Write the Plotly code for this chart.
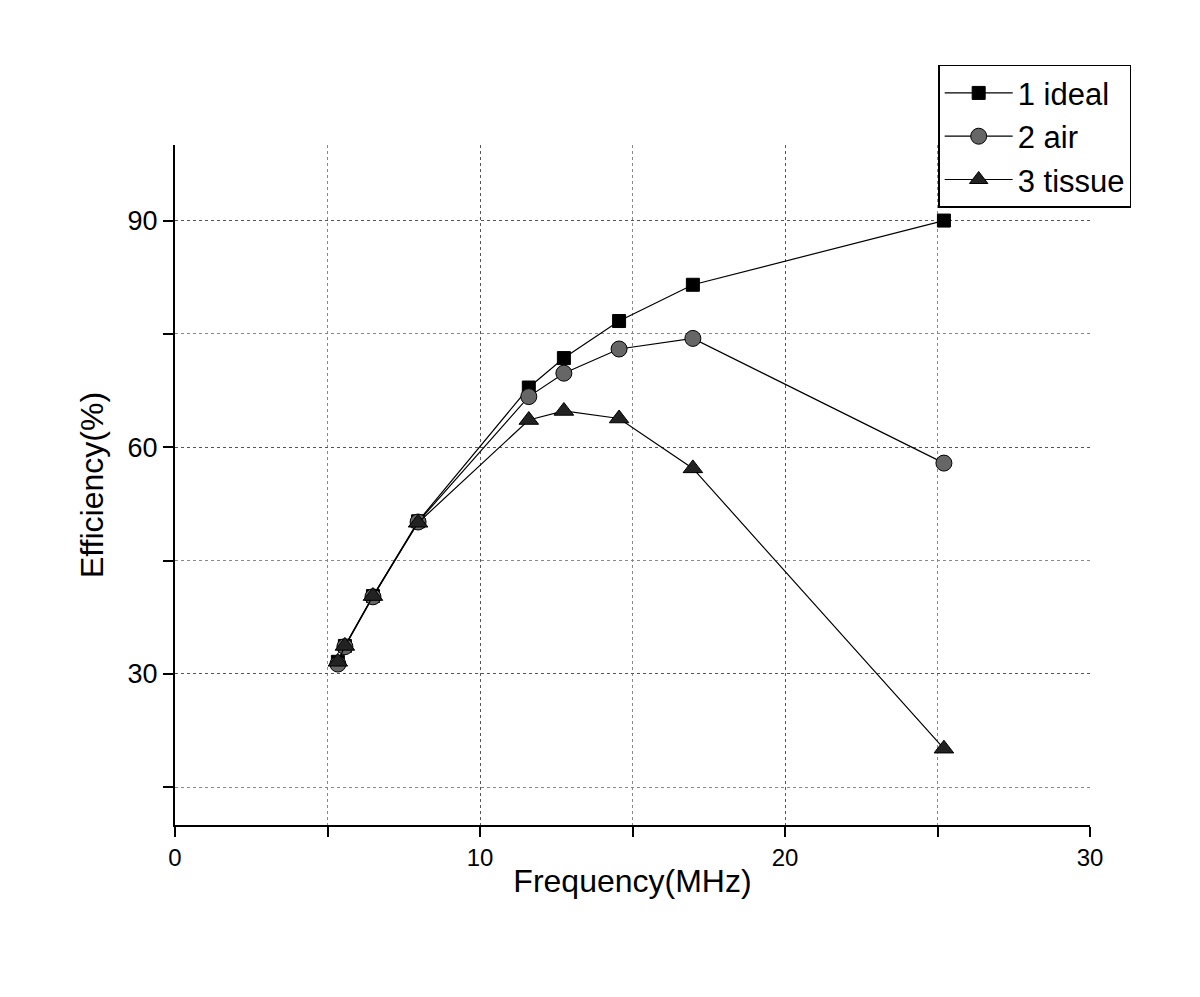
import plotly.graph_objects as go

freq = [5.34, 5.57, 6.49, 7.97, 11.6, 12.75, 14.56, 16.98, 25.21]
ideal = [31.6, 33.7, 40.3, 50.2, 67.9, 71.8, 76.7, 81.5, 90.0]
air = [31.3, 33.6, 40.2, 50.1, 66.7, 69.8, 73.0, 74.4, 57.9]
tissue = [31.6, 33.7, 40.3, 50.0, 63.6, 64.8, 63.8, 57.2, 20.1]

fig = go.Figure()
fig.add_trace(go.Scatter(x=freq, y=ideal, name="1 ideal", mode="lines+markers",
                         line=dict(color="black", width=1.2),
                         marker=dict(symbol="square", size=13, color="black",
                                     line=dict(color="black", width=1))))
fig.add_trace(go.Scatter(x=freq, y=air, name="2 air", mode="lines+markers",
                         line=dict(color="black", width=1.2),
                         marker=dict(symbol="circle", size=16, color="#666666",
                                     line=dict(color="black", width=1))))
fig.add_trace(go.Scatter(x=freq, y=tissue, name="3 tissue", mode="lines+markers",
                         line=dict(color="black", width=1.2),
                         marker=dict(symbol="triangle-up", size=17, color="#222222",
                                     line=dict(color="black", width=1))))

font = "Liberation Sans, Arial, sans-serif"
fig.update_layout(
    width=1200, height=997,
    paper_bgcolor="white", plot_bgcolor="white",
    margin=dict(l=167, r=118, t=137, b=180),
    font=dict(family=font, color="black"),
    legend=dict(x=1.045, y=1.118, xanchor="right", yanchor="top",
                bordercolor="black", borderwidth=1.5, bgcolor="white",
                font=dict(size=31, family=font), itemwidth=68, tracegroupgap=0),
    xaxis=dict(range=[0, 30], tickvals=[0, 10, 20, 30], ticks="outside", ticklen=10,
               tickwidth=2, tickcolor="black", showline=True, linecolor="black",
               linewidth=2, showgrid=True, gridcolor="#555555", griddash="dot",
               gridwidth=1, zeroline=False,
               tickfont=dict(size=24, family=font),
               title=dict(text="Frequency(MHz)", font=dict(size=32, family=font), standoff=0),
               minor=dict(tickvals=[5, 15, 25], ticks="outside", ticklen=10, tickwidth=2,
                          tickcolor="black", showgrid=True, gridcolor="#888888",
                          griddash="dot", gridwidth=1)),
    yaxis=dict(range=[10, 100], tickvals=[30, 60, 90], ticks="outside", ticklen=10,
               tickwidth=2, tickcolor="black", showline=True, linecolor="black",
               linewidth=2, showgrid=True, gridcolor="#555555", griddash="dot",
               gridwidth=1, zeroline=False,
               tickfont=dict(size=27, family=font),
               title=dict(text="Efficiency(%)", font=dict(size=32, family=font), standoff=14),
               minor=dict(tickvals=[15, 45, 75], ticks="outside", ticklen=10, tickwidth=2,
                          tickcolor="black", showgrid=True, gridcolor="#888888",
                          griddash="dot", gridwidth=1)),
)

fig.write_html("out.html")
